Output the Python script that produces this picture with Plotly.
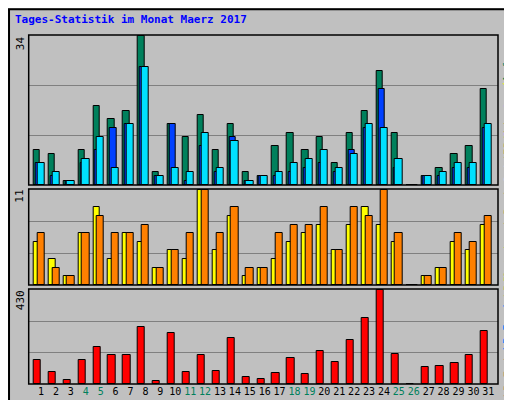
import plotly.graph_objects as go

days = list(range(1, 32))
weekend = [4, 5, 11, 12, 18, 19, 25, 26]

hits = [8, 7, 1, 8, 18, 15, 17, 34, 3, 14, 11, 16, 8, 14, 3, 2,
        9, 12, 8, 11, 5, 12, 17, 26, 12, 0, 2, 4, 7, 9, 22]
files = [5, 2, 1, 5, 8, 13, 14, 27, 2, 14, 1, 9, 3, 11, 1, 2,
         2, 3, 4, 5, 3, 8, 13, 22, 4, 0, 2, 2, 4, 4, 13]
pages = [5, 3, 1, 6, 11, 4, 14, 27, 2, 4, 3, 12, 4, 10, 1, 2,
         3, 5, 6, 8, 4, 7, 14, 13, 6, 0, 2, 3, 5, 5, 14]
visits = [5, 3, 1, 6, 9, 3, 6, 5, 2, 4, 3, 11, 4, 8, 1, 2,
          3, 5, 6, 7, 4, 7, 9, 7, 5, 0, 1, 2, 5, 4, 7]
sites = [6, 2, 1, 6, 8, 6, 6, 7, 2, 4, 6, 11, 6, 9, 2, 2,
         6, 7, 7, 9, 4, 9, 8, 11, 6, 0, 1, 2, 6, 5, 8]
kbytes = [110, 53, 20, 110, 171, 133, 133, 260, 16, 232, 53, 133, 58, 209, 30, 25,
          49, 119, 44, 152, 100, 199, 303, 430, 138, 0, 77, 82, 96, 133, 242]

max_top, max_mid, max_bot = 34, 11, 430

fig = go.Figure()
line = dict(color="black", width=1)


def bars(y, color, off, w, ax):
    fig.add_trace(go.Bar(x=days, y=y, offset=off, width=w, marker=dict(color=color, line=line),
                         xaxis="x" if ax == "y" else "x" + ax[1:], yaxis=ax, showlegend=False))


bars(hits, "#00805c", -0.5, 0.42, "y")
bars(files, "#0040ff", -0.37, 0.42, "y")
bars(pages, "#00e0ff", -0.25, 0.48, "y")
bars(visits, "#ffff00", -0.5, 0.45, "y2")
bars(sites, "#ff8000", -0.25, 0.48, "y2")
bars(kbytes, "#ff0000", -0.5, 0.48, "y3")

xdom = [20.7 / 512, 490 / 512]
xr = [0.17, 31.65]
ticktext = ["<span style='color:#00805c'>%d</span>" % d if d in weekend else str(d) for d in days]

for i, (dom, m) in enumerate([([0.5575, 0.9325], max_top), ([0.3075, 0.5475], max_mid),
                              ([0.06, 0.2975], max_bot)]):
    s = "" if i == 0 else str(i + 1)
    fig.layout["xaxis" + s] = dict(domain=xdom, range=xr, anchor="y" + s, showgrid=False,
                                   tickvals=days if i == 2 else [], ticktext=ticktext,
                                   ticks="", showticklabels=(i == 2), tickangle=0,
                                   tickfont=dict(family="DejaVu Sans Mono", size=10, color="black"))
    fig.layout["yaxis" + s] = dict(domain=dom, range=[0, m * 1.01], anchor="x" + s,
                                   tickvals=[m / 3, 2 * m / 3], showticklabels=False,
                                   gridcolor="#808080", gridwidth=1, zeroline=False)
    fig.add_annotation(text=str(m), xref="paper", yref="paper", x=12 / 512, y=dom[1] + 0.002,
                       xanchor="center", yanchor="top", textangle=-90, showarrow=False,
                       font=dict(family="DejaVu Sans Mono", size=11, color="black"))
    fig.add_shape(type="rect", xref="paper", yref="paper", x0=xdom[0], x1=xdom[1],
                  y0=dom[0], y1=dom[1], line=dict(color="black", width=1.5))

labels = [
    (0.5575, ["Seiten", "/", "Dateien", "/", "Anfragen"],
     ["#00e0ff", "#ffff00", "#0040ff", "#ffff00", "#00805c"]),
    (0.31, ["Besuche", " / ", "Rechner (IP-Adressen)"], ["#ffff00", "#ff8000", "#ff8000"]),
    (0.02, ["kB F", " / ", "kB In", " / ", "kB Out"],
     ["#ff0000", "#ff0000", "#0080ff", "#0080ff", "#00c000"]),
]
# vertical legend text, drawn piece by piece from bottom to top
for y0, parts, colors in labels:
    y = y0
    for p, c in zip(parts, colors):
        fig.add_annotation(text=p, xref="paper", yref="paper", x=500 / 512, y=y, xanchor="center",
                           yanchor="bottom", textangle=-90, showarrow=False,
                           font=dict(family="DejaVu Sans Mono", size=11, color=c))
        y += len(p) * 6.7 / 400

fig.add_annotation(text="<b>Tages-Statistik im Monat Maerz 2017</b>", xref="paper", yref="paper",
                   x=5 / 512, y=1 - 3 / 400, xanchor="left", yanchor="top", showarrow=False,
                   font=dict(family="DejaVu Sans Mono", size=11, color="#0000ff"))
# sunken frame
fig.add_shape(type="rect", xref="paper", yref="paper", x0=0.002, x1=0.998, y0=0.003, y1=0.997,
              line=dict(color="black", width=2))
fig.add_shape(type="line", xref="paper", yref="paper", x0=0.004, x1=0.996, y0=0.006, y1=0.006,
              line=dict(color="#808080", width=4))

fig.update_layout(width=512, height=400, margin=dict(l=0, r=0, t=0, b=0),
                  paper_bgcolor="#c0c0c0", plot_bgcolor="#c0c0c0", barmode="overlay",
                  bargap=0)
fig.write_html("out.html")
